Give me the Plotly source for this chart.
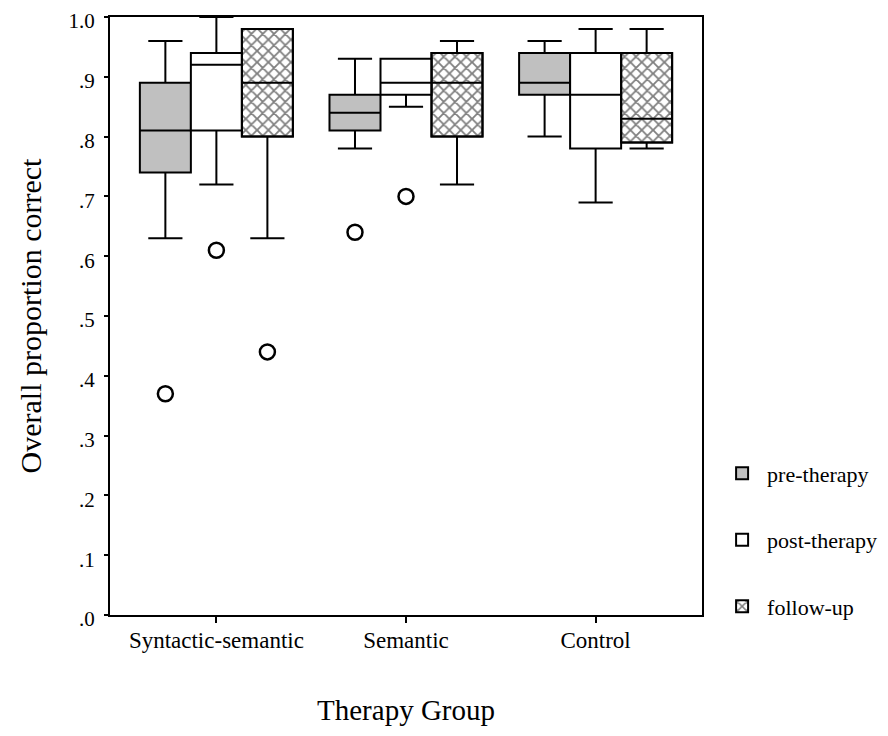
import plotly.graph_objects as go

groups = ["Syntactic-semantic", "Semantic", "Control"]

pre_lo = [0.63, 0.78, 0.80]
pre_q1 = [0.74, 0.81, 0.87]
pre_med = [0.81, 0.84, 0.89]
pre_q3 = [0.89, 0.87, 0.94]
pre_hi = [0.96, 0.93, 0.96]
pre_out = [[0.37], [0.64], []]

post_lo = [0.72, 0.85, 0.69]
post_q1 = [0.81, 0.87, 0.78]
post_med = [0.92, 0.89, 0.87]
post_q3 = [0.94, 0.93, 0.94]
post_hi = [1.00, 0.93, 0.98]
post_out = [[0.61], [0.70], []]

fol_lo = [0.63, 0.72, 0.78]
fol_q1 = [0.80, 0.80, 0.79]
fol_med = [0.89, 0.89, 0.83]
fol_q3 = [0.98, 0.94, 0.94]
fol_hi = [0.98, 0.96, 0.98]
fol_out = [[0.44], [], []]

y_ticks = [0.0, 0.1, 0.2, 0.3, 0.4, 0.5, 0.6, 0.7, 0.8, 0.9, 1.0]
y_ticktext = [".0", ".1", ".2", ".3", ".4", ".5", ".6", ".7", ".8", ".9", "1.0"]

FONT = "Liberation Serif"
BOXGAP = 0.193
BOXW = (1 - BOXGAP) / 3

outlier_marker = dict(symbol="circle-open", size=15, color="black",
                      line=dict(width=2.5, color="black"))

fig = go.Figure()

# crosshatch fill for follow-up boxes (drawn beneath the box outlines)
fig.add_trace(go.Bar(
    x=groups,
    y=[q3 - q1 for q1, q3 in zip(fol_q1, fol_q3)],
    base=fol_q1,
    width=BOXW,
    offset=BOXW / 2,
    name="follow-up",
    legendgroup="c",
    legendrank=3,
    alignmentgroup="hatch",
    offsetgroup="hatch",
    marker=dict(color="white",
                line=dict(color="black", width=2),
                pattern=dict(shape="x", fgcolor="black", bgcolor="white",
                             size=8, solidity=0.4)),
    hoverinfo="skip",
))

def add_box(name, lo, q1, med, q3, hi, out, fill, show, rank, grp):
    fig.add_trace(go.Box(
        name=name,
        x=groups,
        y=out,
        lowerfence=lo, q1=q1, median=med, q3=q3, upperfence=hi,
        boxpoints="outliers", jitter=0, pointpos=0,
        marker=outlier_marker,
        fillcolor=fill,
        line=dict(color="black", width=2),
        whiskerwidth=0.67,
        showlegend=show,
        legendrank=rank,
        legendgroup=grp,
        alignmentgroup="boxes",
        offsetgroup=grp,
    ))

add_box("pre-therapy", pre_lo, pre_q1, pre_med, pre_q3, pre_hi, pre_out,
        "#c0c0c0", True, 1, "a")
add_box("post-therapy", post_lo, post_q1, post_med, post_q3, post_hi, post_out,
        "white", True, 2, "b")
add_box("follow-up", fol_lo, fol_q1, fol_med, fol_q3, fol_hi, fol_out,
        "rgba(0,0,0,0)", False, 3, "c")

# page body adds an 8px margin, so the figure is sized to fit the window
fig.update_layout(
    width=880, height=728,
    margin=dict(l=102, r=186, t=9, b=121, autoexpand=False),
    paper_bgcolor="white", plot_bgcolor="white",
    font=dict(family=FONT, color="black", size=22),
    boxmode="group", boxgap=BOXGAP, boxgroupgap=0,
    barmode="overlay",
    legend=dict(x=1.0255, xanchor="left", y=0.272, yanchor="top",
                font=dict(family=FONT, size=22, color="black"),
                tracegroupgap=35, itemwidth=40,
                bgcolor="rgba(0,0,0,0)"),
)

fig.update_xaxes(
    type="category", range=[-0.561, 2.561], automargin=False,
    showline=True, linecolor="black", linewidth=2, mirror=True,
    ticks="outside", ticklen=6, tickwidth=2, tickcolor="black",
    showgrid=False, zeroline=False,
    tickfont=dict(family=FONT, size=23),
    ticklabelstandoff=-3,
    title=dict(text="Therapy Group", font=dict(family=FONT, size=29), standoff=48),
)
fig.update_yaxes(
    range=[0, 1], automargin=False,
    tickvals=y_ticks, ticktext=y_ticktext,
    showline=True, linecolor="black", linewidth=2, mirror=True,
    ticks="outside", ticklen=4, tickwidth=2, tickcolor="black",
    showgrid=False, zeroline=False,
    tickfont=dict(family=FONT, size=21),
    ticklabelstandoff=5,
    ticklabelshift=4,
    ticklabeloverflow="allow",
    title=dict(text="Overall proportion correct", font=dict(family=FONT, size=30), standoff=18),
)

fig.write_html("out.html")
